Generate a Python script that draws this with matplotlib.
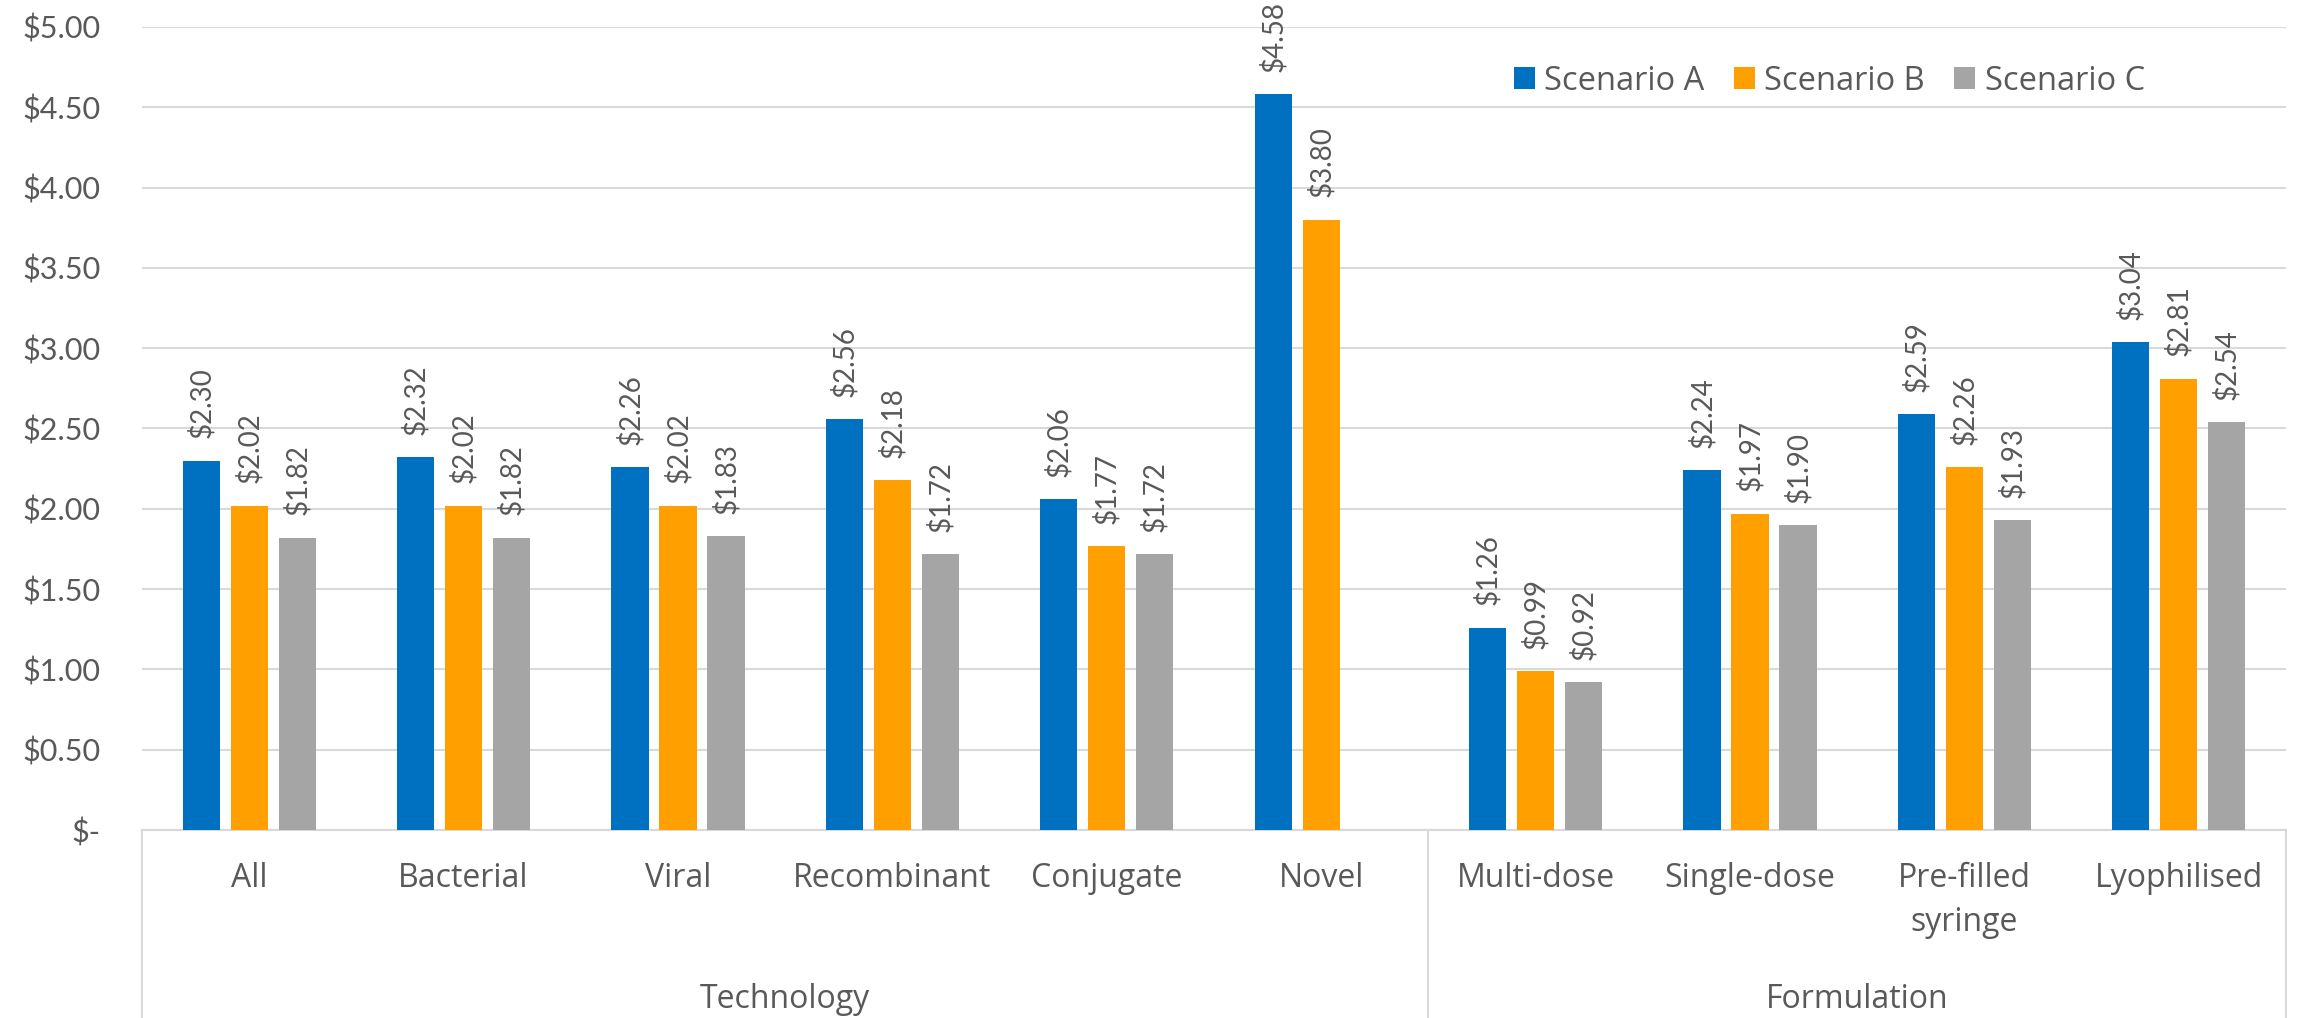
import matplotlib
matplotlib.use("Agg")
import matplotlib.pyplot as plt
from matplotlib.patches import Patch
from matplotlib.lines import Line2D
from matplotlib.transforms import blended_transform_factory

# ---- data ----
groups = ["Technology", "Formulation"]
group_sizes = [6, 4]
categories = ["All", "Bacterial", "Viral", "Recombinant", "Conjugate", "Novel",
              "Multi-dose", "Single-dose", "Pre-filled\nsyringe", "Lyophilised"]
series_names = ["Scenario A", "Scenario B", "Scenario C"]
scenario_a = [2.30, 2.32, 2.26, 2.56, 2.06, 4.58, 1.26, 2.24, 2.59, 3.04]
scenario_b = [2.02, 2.02, 2.02, 2.18, 1.77, 3.80, 0.99, 1.97, 2.26, 2.81]
scenario_c = [1.82, 1.82, 1.83, 1.72, 1.72, None, 0.92, 1.90, 1.93, 2.54]
y_ticks = [0.0, 0.5, 1.0, 1.5, 2.0, 2.5, 3.0, 3.5, 4.0, 4.5, 5.0]

series = [scenario_a, scenario_b, scenario_c]
colors = ["#0070C0", "#FF9F00", "#A5A5A5"]
text_color = "#595959"
line_color = "#D9D9D9"
cat_font = "Open Sans"
num_font = "Lato"

W, H = 2300, 1018
fig = plt.figure(figsize=(W / 100, H / 100), dpi=100)
left, right, top, bottom = 142, 2286, 27, 830
ax = fig.add_axes([left / W, 1 - bottom / H, (right - left) / W, (bottom - top) / H])

bar_w = 0.173
step = 0.224
x = list(range(len(categories)))

for i, (vals, name, col) in enumerate(zip(series, series_names, colors)):
    off = (i - 1) * step
    xs = [xi + off for xi, v in zip(x, vals) if v is not None]
    vs = [v for v in vals if v is not None]
    bars = ax.bar(xs, vs, width=bar_w, color=col, label=name, zorder=3)
    for b, v in zip(bars, vs):
        ax.annotate(f"${v:.2f}", (b.get_x() + b.get_width() / 2, v),
                    xytext=(0, 16), textcoords="offset points",
                    rotation=90, ha="center", va="bottom",
                    fontsize=20, family=num_font, color=text_color)

ax.set_xlim(-0.5, len(categories) - 0.5)
ax.set_ylim(0, 5)
ax.set_yticks(y_ticks)
ax.set_yticklabels(["$-" if t == 0 else f"${t:.2f}" for t in y_ticks],
                   family=num_font, fontsize=22, color=text_color)
ax.yaxis.grid(True, color=line_color, linewidth=1.5, zorder=0)
ax.set_axisbelow(True)
ax.tick_params(axis="y", length=0, pad=30)

ax.set_xticks(x)
ax.set_xticklabels(categories, family=cat_font, fontsize=23, color=text_color)
for t in ax.get_xticklabels():
    t.set_linespacing(1.45)
ax.tick_params(axis="x", length=0, pad=23)

for s in ["left", "right", "top"]:
    ax.spines[s].set_visible(False)
ax.spines["bottom"].set_color(line_color)
ax.spines["bottom"].set_linewidth(1.5)

# group labels and separators below the category axis
trans = blended_transform_factory(ax.transData, ax.transAxes)
start = -0.5
bounds = [start]
for g, n in zip(groups, group_sizes):
    end = start + n
    ax.text((start + end) / 2, -0.222, g, transform=trans, ha="center",
            va="baseline", family=cat_font, fontsize=23, color=text_color)
    start = end
    bounds.append(end)
for bx in bounds:
    ax.add_line(Line2D([bx, bx], [0, -0.3], transform=trans, color=line_color,
                       linewidth=1.5, clip_on=False))

handles = [Patch(facecolor=c, edgecolor="none") for c in colors]
leg = fig.legend(handles, series_names, loc="center left",
                 bbox_to_anchor=(1514 / W, 1 - 81 / H), ncol=3, frameon=False,
                 prop={"family": cat_font, "size": 23.5},
                 handlelength=0.63, handleheight=0.63, handletextpad=0.3,
                 columnspacing=0.9, borderpad=0, borderaxespad=0)
for t in leg.get_texts():
    t.set_color(text_color)

fig.savefig("out.png", dpi=100)
